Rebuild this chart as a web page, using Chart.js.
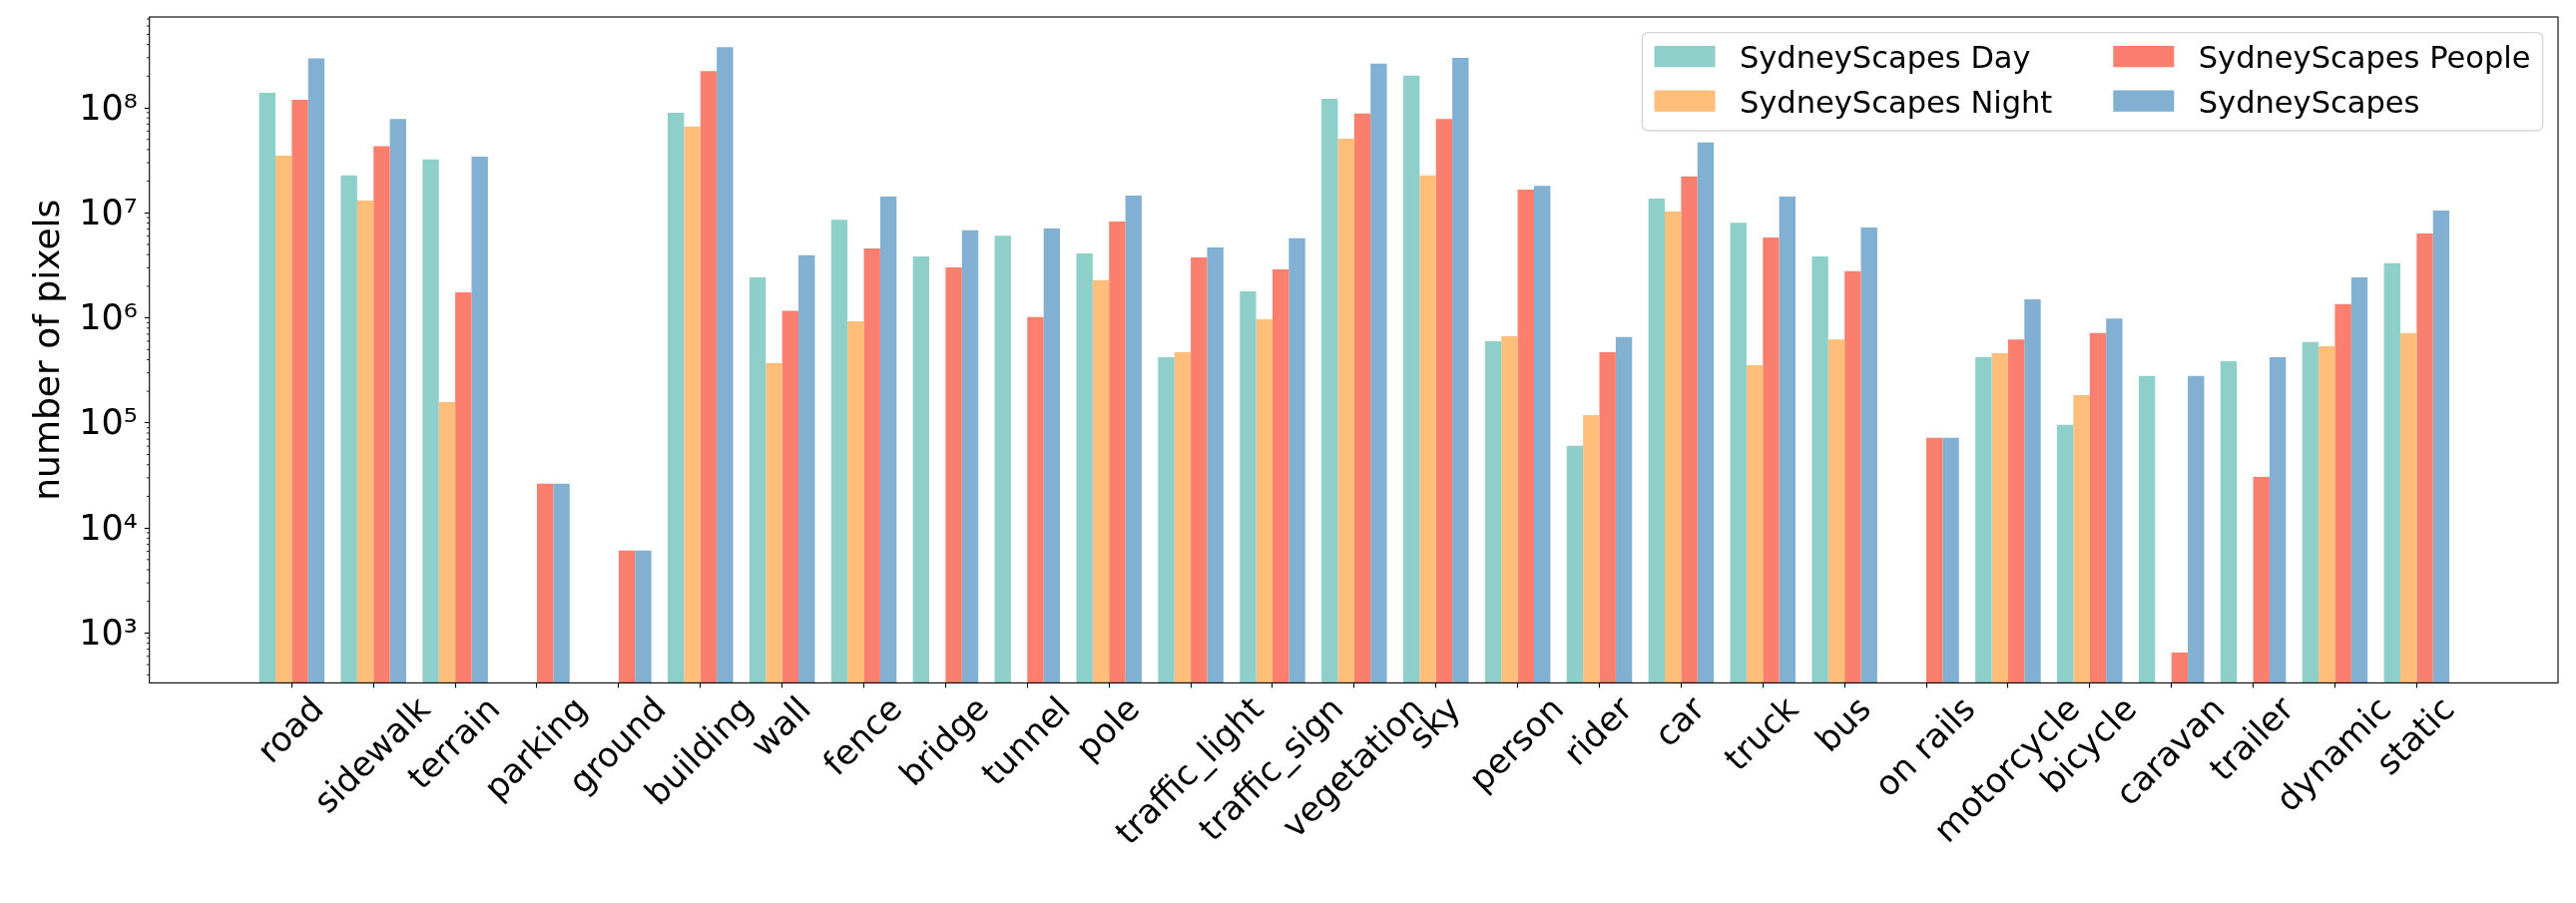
<!DOCTYPE html>
<html>
<head>
<meta charset="utf-8">
<script src="https://cdn.jsdelivr.net/npm/chart.js@4.4.1/dist/chart.umd.min.js"></script>
<style>
  html, body { margin: 0; padding: 0; background: #fff; }
  #wrap { width: 2581px; height: 905px; position: relative; }
</style>
</head>
<body>
<div id="wrap"><canvas id="pixelChart"></canvas></div>
<script>
// classes on the x axis
const categories = ['road', 'sidewalk', 'terrain', 'parking', 'ground', 'building', 'wall', 'fence',
    'bridge', 'tunnel', 'pole', 'traffic_light', 'traffic_sign', 'vegetation', 'sky', 'person',
    'rider', 'car', 'truck', 'bus', 'on rails', 'motorcycle', 'bicycle', 'caravan', 'trailer',
    'dynamic', 'static'];

const seriesNames = ['SydneyScapes Day', 'SydneyScapes Night', 'SydneyScapes People', 'SydneyScapes'];
const seriesColors = ['#8ECFC9', '#FFBE7A', '#FA7F6F', '#82B0D2'];

// number of pixels per class (null = no bar)
const dayPixels = [1.39e8, 2.27e7, 3.22e7, null, null, 8.98e7, 2.43e6, 8.6e6, 3.84e6, 6.06e6, 4.1e6,
    4.22e5, 1.79e6, 1.22e8, 2.02e8, 6.0e5, 6.05e4, 1.37e7, 8.06e6, 3.84e6, null, 4.22e5, 9.58e4,
    2.8e5, 3.86e5, 5.89e5, 3.31e6];
const nightPixels = [3.5e7, 1.31e7, 1.58e5, null, null, 6.63e7, 3.72e5, 9.3e5, null, null, 2.29e6,
    4.7e5, 9.68e5, 5.09e7, 2.27e7, 6.67e5, 1.19e5, 1.03e7, 3.54e5, 6.24e5, null, 4.61e5, 1.84e5,
    null, null, 5.38e5, 7.16e5];
const peoplePixels = [1.19e8, 4.31e7, 1.75e6, 2.64e4, 6.1e3, 2.23e8, 1.17e6, 4.57e6, 3.03e6, 1.02e6,
    8.28e6, 3.76e6, 2.89e6, 8.81e7, 7.83e7, 1.66e7, 4.7e5, 2.22e7, 5.83e6, 2.78e6, 7.22e4, 6.24e5,
    7.16e5, 650, 3.06e4, 1.35e6, 6.37e6];
const totalPixels = [2.95e8, 7.83e7, 3.42e7, 2.64e4, 6.1e3, 3.77e8, 3.95e6, 1.43e7, 6.82e6, 7.1e6,
    1.46e7, 4.67e6, 5.73e6, 2.63e8, 2.99e8, 1.81e7, 6.56e5, 4.67e7, 1.43e7, 7.23e6, 7.22e4, 1.5e6,
    9.86e5, 2.8e5, 4.22e5, 2.43e6, 1.05e7];

// y axis: labelled powers of ten
const yTickExponents = [3, 4, 5, 6, 7, 8];

const FONT = '"DejaVu Sans", sans-serif';
const SUP = { '0': '\u2070', '1': '\u00B9', '2': '\u00B2', '3': '\u00B3', '4': '\u2074',
    '5': '\u2075', '6': '\u2076', '7': '\u2077', '8': '\u2078', '9': '\u2079' };

function powLabel(v) {
    const e = String(Math.round(Math.log10(v)));
    return '10' + e.split('').map(c => SUP[c] || c).join('');
}

const datasets = [dayPixels, nightPixels, peoplePixels, totalPixels].map((vals, k) => ({
    label: seriesNames[k],
    data: vals.map((v, i) => ({ x: i, y: v })),
    backgroundColor: seriesColors[k],
    borderWidth: 0,
    categoryPercentage: 0.8,
    barPercentage: 1.0
}));

// frame + minor log ticks
const framePlugin = {
    id: 'frame',
    afterDraw(chart) {
        const { ctx, chartArea: a } = chart;
        const y = chart.scales.y;
        ctx.save();
        ctx.strokeStyle = '#000';
        ctx.lineWidth = 0.85;
        for (let e = 2; e <= 8; e++) {
            for (let k = 2; k <= 9; k++) {
                const v = k * Math.pow(10, e);
                if (v < y.min || v > y.max) continue;
                const py = y.getPixelForValue(v);
                ctx.beginPath();
                ctx.moveTo(a.left - 2.8, py);
                ctx.lineTo(a.left, py);
                ctx.stroke();
            }
        }
        ctx.lineWidth = 1.1;
        ctx.strokeRect(a.left, a.top, a.right - a.left, a.bottom - a.top);
        ctx.restore();
    }
};

// rotated x labels, centred on their tick like matplotlib
const xLabelPlugin = {
    id: 'xLabels',
    afterDraw(chart) {
        const { ctx, chartArea: a } = chart;
        const xs = chart.scales.x;
        const size = 34;
        const y0 = a.bottom + 9.8;
        ctx.save();
        ctx.font = size + 'px ' + FONT;
        ctx.fillStyle = '#000';
        ctx.textAlign = 'center';
        ctx.textBaseline = 'alphabetic';
        categories.forEach((label, i) => {
            const w = ctx.measureText(label).width;
            const h = 0.968 * size;
            const half = (w + h) * Math.SQRT1_2 / 2;
            ctx.save();
            ctx.translate(xs.getPixelForValue(i), y0 + half);
            ctx.rotate(-Math.PI / 4);
            ctx.fillText(label, 0, 0.276 * size);
            ctx.restore();
        });
        ctx.restore();
    }
};

// legend in two columns, upper right inside the plot
const legendPlugin = {
    id: 'boxLegend',
    afterDraw(chart) {
        const { ctx, chartArea: a } = chart;
        const fs = 30.5;
        const pad = 0.4 * fs, handleLen = 2 * fs, textPad = 0.8 * fs, colGap = 2 * fs;
        const rowH = 0.962 * fs, rowGap = 0.5 * fs;
        const sets = chart.data.datasets;
        ctx.save();
        ctx.font = fs + 'px ' + FONT;
        const cols = [[sets[0], sets[1]], [sets[2], sets[3]]];
        const colW = cols.map(c => handleLen + textPad + Math.max(...c.map(d => ctx.measureText(d.label).width)));
        const boxW = pad * 2 + colW[0] + colGap + colW[1];
        const boxH = pad * 2 + rowH * 2 + rowGap;
        const right = a.right - 15.3, top = a.top + 15.6;
        const left = right - boxW;

        ctx.beginPath();
        ctx.roundRect(left, top, boxW, boxH, 6);
        ctx.fillStyle = 'rgba(255,255,255,0.8)';
        ctx.fill();
        ctx.strokeStyle = 'rgba(204,204,204,0.8)';
        ctx.lineWidth = 1.4;
        ctx.stroke();

        ctx.textAlign = 'left';
        ctx.textBaseline = 'alphabetic';
        let cx = left + pad;
        cols.forEach((col, ci) => {
            col.forEach((d, ri) => {
                const base = top + pad + ri * (rowH + rowGap) + 0.76 * fs;
                ctx.fillStyle = d.backgroundColor;
                ctx.fillRect(cx, base - 0.7 - 0.7 * fs, handleLen, 0.7 * fs);
                ctx.fillStyle = '#000';
                ctx.fillText(d.label, cx + handleLen + textPad, base);
            });
            cx += colW[ci] + colGap;
        });
        ctx.restore();
    }
};

new Chart(document.getElementById('pixelChart'), {
    type: 'bar',
    data: { datasets: datasets },
    plugins: [framePlugin, xLabelPlugin, legendPlugin],
    options: {
        responsive: true,
        maintainAspectRatio: false,
        animation: false,
        devicePixelRatio: 1,
        layout: { padding: { top: 17, right: 18, bottom: 0, left: 0 } },
        plugins: { legend: { display: false }, tooltip: { enabled: false } },
        scales: {
            x: {
                type: 'linear',
                min: -1.742,
                max: 27.73,
                offset: false,
                afterBuildTicks: s => { s.ticks = categories.map((c, i) => ({ value: i })); },
                afterFit: s => { s.height = 220.6; s.paddingLeft = 0; s.paddingRight = 0; },
                ticks: { display: false },
                grid: { display: true, offset: false, drawOnChartArea: false, drawTicks: true,
                        tickLength: 4.9, tickWidth: 1.1, tickColor: '#000' },
                border: { display: false }
            },
            y: {
                type: 'logarithmic',
                min: 335,
                max: 7.32e8,
                afterBuildTicks: s => { s.ticks = yTickExponents.map(e => ({ value: Math.pow(10, e) })); },
                afterFit: s => { s.width = 149.7; s.paddingTop = 0; s.paddingBottom = 0; },
                ticks: {
                    autoSkip: false,
                    padding: 7,
                    labelOffset: 2.5,
                    color: '#000',
                    font: { family: FONT, size: 35 },
                    callback: v => powLabel(v)
                },
                grid: { display: true, drawOnChartArea: false, drawTicks: true,
                        tickLength: 4.9, tickWidth: 1.1, tickColor: '#000' },
                border: { display: false },
                title: {
                    display: true,
                    text: 'number of pixels',
                    color: '#000',
                    font: { family: FONT, size: 36 },
                    padding: { top: 28.5, bottom: 0 }
                }
            }
        }
    }
});
</script>
</body>
</html>
